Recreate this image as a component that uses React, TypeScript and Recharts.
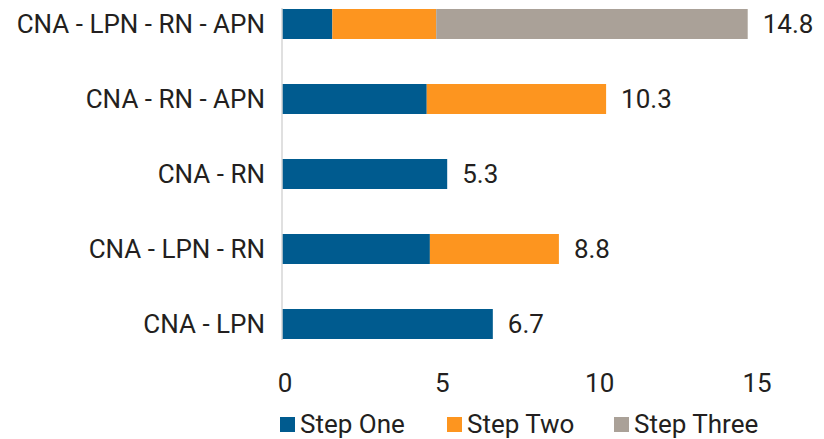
import React from "react";
import { BarChart, Bar, XAxis, YAxis, Legend, LabelList } from "recharts";

const categories = [
  "CNA - LPN - RN - APN",
  "CNA - RN - APN",
  "CNA - RN",
  "CNA - LPN - RN",
  "CNA - LPN",
];
const stepOne = [1.6, 4.6, 5.25, 4.7, 6.7];
const stepTwo = [3.3, 5.7, 0, 4.1, 0];
const stepThree = [9.9, 0, 0, 0, 0];
const totals = [14.8, 10.3, 5.3, 8.8, 6.7];
const xTicks = [0, 5, 10, 15];

const series = [
  { key: "stepOne", name: "Step One", color: "#005b8f" },
  { key: "stepTwo", name: "Step Two", color: "#fd951f" },
  { key: "stepThree", name: "Step Three", color: "#aaa198" },
];

const data = categories.map((name, i) => ({
  name,
  stepOne: stepOne[i],
  stepTwo: stepTwo[i],
  stepThree: stepThree[i],
}));

const FONT = "Roboto, sans-serif";
const TEXT = "#231f20";

// last non-zero segment of each row gets the total label
const lastKey = data.map((row) => {
  let k = "stepOne";
  series.forEach((s) => {
    if ((row as any)[s.key] > 0) k = s.key;
  });
  return k;
});

const totalLabel = (key: string) => (props: any) => {
  const { x, y, width, height, value } = props;
  const i = categories.indexOf(value);
  if (i < 0 || lastKey[i] !== key) return null;
  return (
    <text
      x={Number(x) + Number(width) + 15}
      y={Number(y) + Number(height) / 2}
      dy="0.355em"
      fill={TEXT}
      fontSize={26}
      fontFamily={FONT}
    >
      {totals[i]}
    </text>
  );
};

const LegendContent = () => (
  <div
    style={{
      display: "flex",
      paddingLeft: 280,
      height: 30,
      alignItems: "center",
      fontFamily: FONT,
      fontSize: 26,
      color: TEXT,
    }}
  >
    {series.map((s) => (
      <div key={s.key} style={{ width: 167, display: "flex", alignItems: "center" }}>
        <span
          style={{
            display: "inline-block",
            width: 15,
            height: 15,
            background: s.color,
            marginRight: 5,
          }}
        />
        <span>{s.name}</span>
      </div>
    ))}
  </div>
);

export default function App() {
  return (
    <div style={{ position: "absolute", left: 0, top: 0, width: 824, height: 439, background: "#fff" }}>
      <BarChart
        width={824}
        height={439}
        data={data}
        layout="vertical"
        margin={{ top: 8, right: 70, bottom: 0, left: 0 }}
      >
        <XAxis
          type="number"
          domain={[0, 15]}
          ticks={xTicks}
          axisLine={false}
          tickLine={false}
          tickSize={0}
          tickMargin={34}
          height={69}
          tick={{ fill: TEXT, fontSize: 26, fontFamily: FONT, dx: 3 }}
        />
        <YAxis
          type="category"
          dataKey="name"
          width={282}
          tickLine={false}
          tickSize={0}
          tickMargin={17}
          padding={{ top: -22, bottom: -21 }}
          axisLine={{ stroke: "#d6d6d6", strokeWidth: 1.5 }}
          tick={{ fill: TEXT, fontSize: 26, fontFamily: FONT }}
        />
        <Legend
          verticalAlign="bottom"
          content={LegendContent}
          wrapperStyle={{ left: 0, width: 824 }}
        />
        {series.map((s) => (
          <Bar
            key={s.key}
            dataKey={s.key}
            name={s.name}
            stackId="a"
            fill={s.color}
            barSize={30}
            isAnimationActive={false}
          >
            <LabelList dataKey="name" content={totalLabel(s.key)} />
          </Bar>
        ))}
      </BarChart>
    </div>
  );
}
